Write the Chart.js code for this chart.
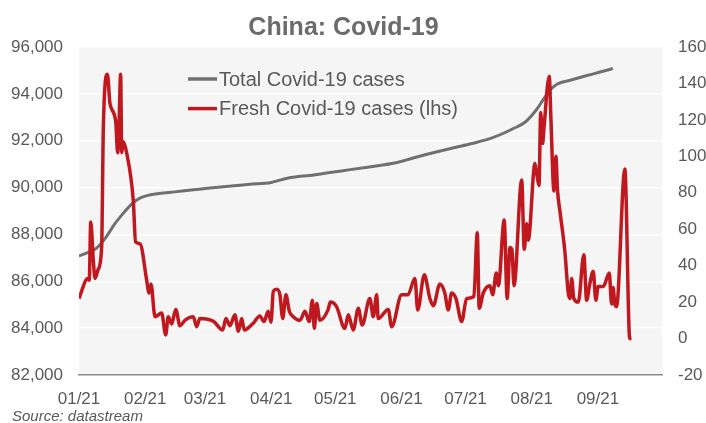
<!DOCTYPE html>
<html>
<head>
<meta charset="utf-8">
<script src="https://cdn.jsdelivr.net/npm/chart.js"></script>
<style>
  html, body { margin: 0; padding: 0; background: #fff; }
  #wrap { width: 706px; height: 423px; }
</style>
</head>
<body>
<div id="wrap"><canvas id="covidChart" width="706" height="423"></canvas></div>
<script>
// Days since 1 Jan 2021 for each month start, and the labels under them
const monthStart = [0, 31, 59, 90, 120, 151, 181, 212, 243];
const monthLabels = ["01/21", "02/21", "03/21", "04/21", "05/21", "06/21", "07/21", "08/21", "09/21"];

// Total cases (left axis)
const totalDay = [0, 4, 8, 12, 17, 21, 25, 29, 33, 42, 59, 70, 80, 90, 97, 110, 122, 135, 149, 156,
    163, 175, 184, 194, 203, 209, 214, 217, 220.5, 224, 230, 237, 244, 250];
const totalCases = [87080, 87220, 87400, 87800, 88480, 88930, 89330, 89570, 89680, 89790,
    89960, 90060, 90140, 90220, 90390, 90540, 90700, 90870, 91070, 91250,
    91420, 91690, 91880, 92140, 92500, 92800, 93300, 93700, 94150, 94420,
    94580, 94760, 94930, 95080];

// Fresh cases (right axis)
const freshDay = [0, 4.1, 4.8, 5.5, 6.7, 7.5, 9, 10.6, 11.4, 13.3,
    14.5, 17.2, 18.1, 18.7, 19.5, 20, 20.7, 22.3, 25.4, 26.5,
    28.6, 31.7, 32.8, 33.7, 35.6, 38.7, 40.6, 41.8, 43.4, 45.3,
    47.3, 49.6, 53.5, 55.1, 56.6, 62.9, 67.3, 68.8, 70.7, 73,
    74.6, 76.2, 77.4, 81.6, 84.7, 86.6, 88.6, 89.9, 91, 92.6,
    94.1, 95.4, 96.9, 98.5, 100.3, 103.5, 105.8, 107.8, 109.3, 110.2,
    111.3, 112.8, 116.7, 117.7, 120.6, 124.5, 126.1, 128.4, 130.8, 132.6,
    136.2, 137.8, 139.4, 140.1, 144.8, 146.4, 151.1, 154, 157.3, 158.6,
    161.7, 164.3, 165.9, 169, 171.3, 172.9, 174.5, 176.5, 179.2, 181.5,
    184.9, 186.5, 187.4, 189.3, 192.4, 193.7, 195.4, 196.4, 199.1, 200.5,
    201.8, 202.7, 203.7, 207.3, 208.5, 209.6, 210.4, 213.5, 214.4, 215.4,
    216.2, 217.1, 217.7, 220.2, 221, 222.4, 223.3, 224.1, 225.2, 227.5,
    229.1, 229.9, 230.7, 231.7, 233.8, 236.4, 237.7, 239.2, 240.8, 242,
    243.1, 245.5, 248.3, 249.4, 250.1, 250.9, 251.7, 255.6, 257.9, 258.7];
const freshCases = [22, 33, 32, 64, 43, 33, 38, 50, 116, 145,
    129, 119, 102, 116, 145, 102, 108, 102, 76, 53,
    52, 32, 25, 30, 12, 14, 2, 12, 8, 16,
    7, 10, 12, 6.5, 11, 9.5, 4.7, 11, 7, 13,
    4, 11, 4.7, 8.4, 12.4, 9.3, 15, 9, 26, 27,
    24, 11, 24, 15, 12, 10, 15, 9.3, 21, 5.6,
    19.3, 10, 16, 20, 17.5, 5.6, 13, 4.7, 16.6, 7.4,
    22, 12, 24, 11, 16, 6.5, 24, 24, 33, 15.7,
    35, 22, 18, 30, 25, 15.7, 25, 22, 9.3, 22,
    23, 58, 16.6, 25, 29, 24, 36, 29, 65, 22,
    50, 49, 29, 87, 49, 63, 54, 96, 90, 84,
    124, 107, 115, 144, 120, 81, 100, 81, 70, 48,
    25, 22, 33, 22, 20, 46, 21, 30, 37, 21,
    28.5, 28.5, 36, 19, 28, 19, 17.5, 93, 0, 0];

const FONT = "'Liberation Sans', Arial, sans-serif";
const TEXT = "#595959";

// light grey plot background
const plotBackground = {
    id: "plotBackground",
    beforeDraw(chart) {
        const { ctx, chartArea: a } = chart;
        ctx.save();
        ctx.fillStyle = "#f5f5f5";
        ctx.fillRect(a.left, a.top, a.right - a.left, a.bottom - a.top);
        ctx.restore();
    }
};

// title, in-plot legend and source line
const decorations = {
    id: "decorations",
    afterDraw(chart) {
        const ctx = chart.ctx;
        ctx.save();
        ctx.fillStyle = "#6b6b6b";
        ctx.font = "bold 25px " + FONT;
        ctx.textAlign = "center";
        ctx.textBaseline = "alphabetic";
        ctx.fillText("China: Covid-19", 343.5, 35);

        ctx.font = "20px " + FONT;
        ctx.textAlign = "left";
        ctx.textBaseline = "middle";
        const legendOrder = [0, 1];
        legendOrder.forEach((idx, row) => {
            const ds = chart.data.datasets[idx];
            const y = 79 + row * 29.6;
            ctx.strokeStyle = ds.borderColor;
            ctx.lineWidth = 3.5;
            ctx.beginPath();
            ctx.moveTo(188, y);
            ctx.lineTo(217, y);
            ctx.stroke();
            ctx.fillStyle = TEXT;
            ctx.fillText(ds.label, 219, y + 1);
        });

        ctx.font = "italic 15px " + FONT;
        ctx.textBaseline = "alphabetic";
        ctx.fillText("Source: datastream", 12, 421);
        ctx.restore();
    }
};

const data = {
    datasets: [
        {
            label: "Total Covid-19 cases",
            data: totalDay.map((d, i) => ({ x: d, y: totalCases[i] })),
            yAxisID: "y",
            borderColor: "#707070",
            borderWidth: 3,
            pointRadius: 0,
            cubicInterpolationMode: "monotone",
            order: 2
        },
        {
            label: "Fresh Covid-19 cases (lhs)",
            data: freshDay.map((d, i) => ({ x: d, y: freshCases[i] })),
            yAxisID: "y1",
            borderColor: "#c0181f",
            borderWidth: 3.5,
            pointRadius: 0,
            cubicInterpolationMode: "monotone",
            order: 1
        }
    ]
};

const config = {
    type: "line",
    data: data,
    options: {
        responsive: false,
        animation: false,
        layout: { padding: { top: 47, left: 0, right: 0, bottom: 0 } },
        plugins: {
            legend: { display: false },
            title: { display: false },
            tooltip: { enabled: false }
        },
        scales: {
            x: {
                type: "linear",
                min: 0,
                max: 273,
                grid: { display: false },
                border: { display: true, color: "#8c8c8c", width: 1.5 },
                ticks: {
                    padding: 6,
                    autoSkip: false,
                    maxRotation: 0,
                    color: TEXT,
                    font: { family: FONT, size: 17 },
                    callback: (value) => {
                        const i = monthStart.indexOf(value);
                        return i >= 0 ? monthLabels[i] : "";
                    }
                },
                afterBuildTicks: (axis) => {
                    axis.ticks = monthStart.map(v => ({ value: v }));
                },
                afterFit: (axis) => { axis.height = 48; }
            },
            y: {
                position: "left",
                min: 82000,
                max: 96000,
                grid: { color: "#ffffff", lineWidth: 1.5, drawTicks: false },
                border: { display: false },
                ticks: {
                    stepSize: 2000,
                    padding: 16,
                    color: TEXT,
                    font: { family: FONT, size: 17 },
                    callback: (v) => v.toLocaleString("en-US")
                },
                afterFit: (axis) => { axis.width = 79; }
            },
            y1: {
                position: "right",
                min: -20,
                max: 160,
                grid: { display: false, drawTicks: false },
                border: { display: false },
                ticks: {
                    stepSize: 20,
                    padding: 16,
                    color: TEXT,
                    font: { family: FONT, size: 17 }
                },
                afterFit: (axis) => { axis.width = 44; }
            }
        }
    },
    plugins: [plotBackground, decorations]
};

const ctx = document.getElementById("covidChart").getContext("2d");
new Chart(ctx, config);
</script>
</body>
</html>
